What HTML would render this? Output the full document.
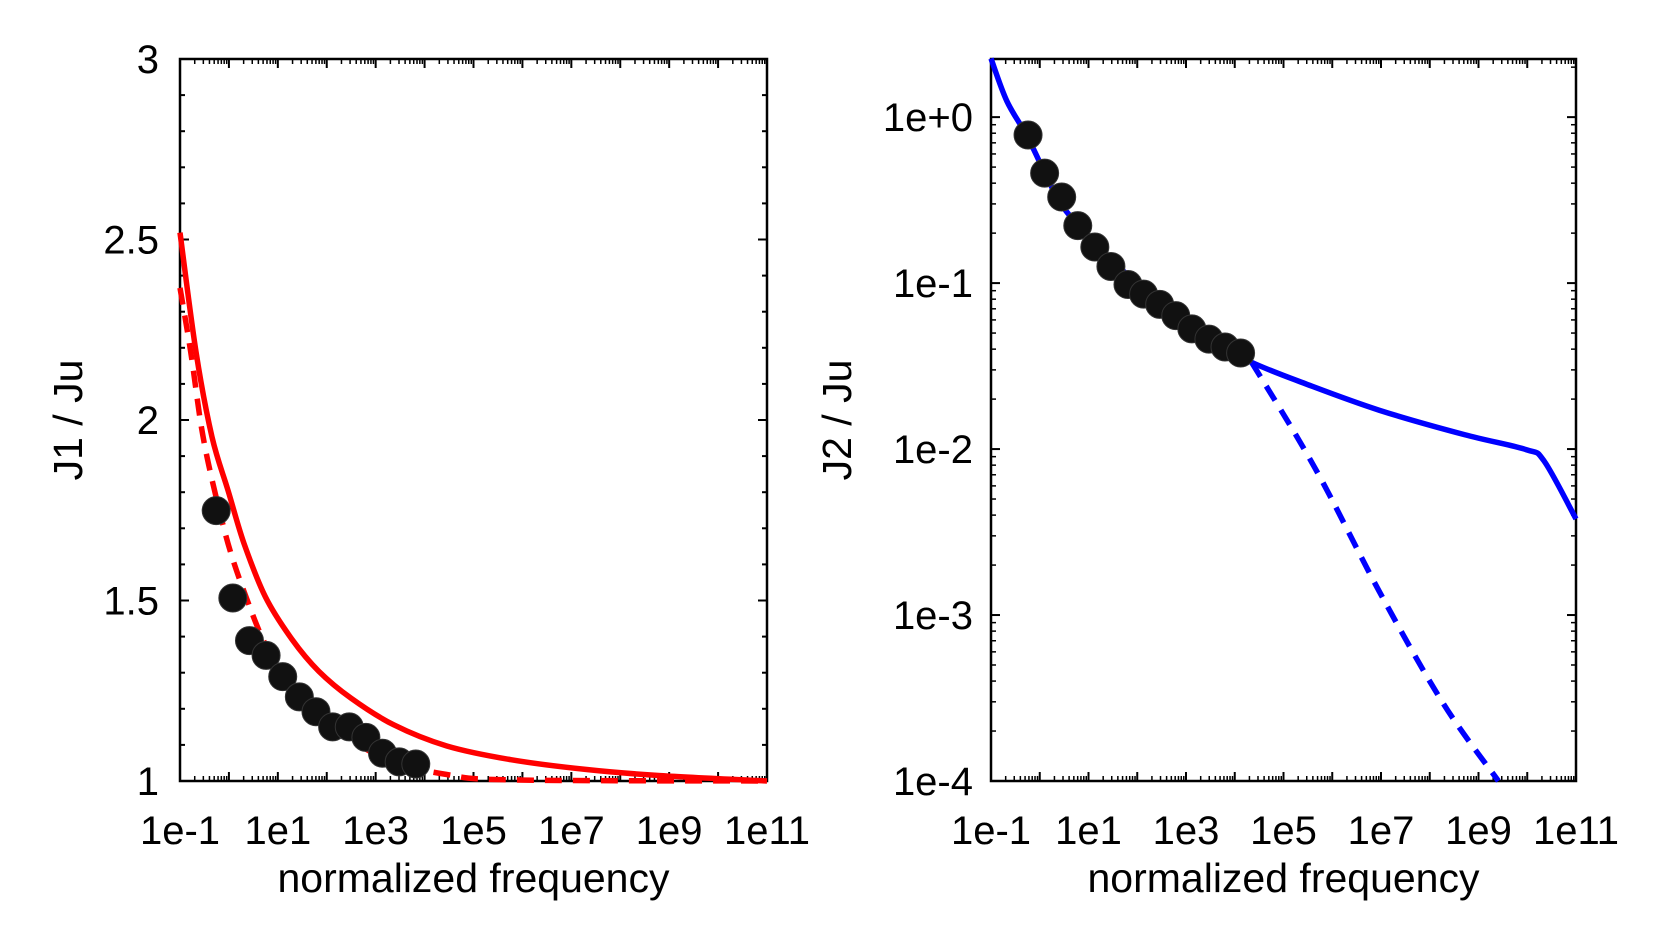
<!DOCTYPE html>
<html><head><meta charset="utf-8"><style>
body{margin:0;background:#fff}
svg{display:block}
text{font-family:"Liberation Sans",sans-serif;fill:#000}
</style></head><body>
<svg id="c" width="1663" height="946" viewBox="0 0 1663 946" xmlns="http://www.w3.org/2000/svg"></svg>
<script>
// Left panel data (log10 frequency, J1/Ju)
const leftDotLogF=[-0.26,0.08,0.42,0.76,1.10,1.44,1.78,2.12,2.46,2.80,3.14,3.48,3.82];
const leftDotVal=[1.749,1.507,1.389,1.348,1.289,1.233,1.192,1.150,1.150,1.121,1.077,1.053,1.047];
const leftSolidLogF=[-1,-0.673,-0.345,-0.018,0.309,0.746,1.291,1.837,2.491,3.364,4.455,5.764,7.29,8.82,11];
const leftSolidVal=[2.519,2.189,1.953,1.805,1.658,1.510,1.392,1.304,1.230,1.156,1.097,1.059,1.032,1.015,1.0];
const leftDashLogF=[-1,-0.782,-0.564,-0.345,-0.018,0.309,0.746,1.291,1.837,2.491,3.364,4.455,5.764,11];
const leftDashVal=[2.366,2.189,1.982,1.835,1.658,1.525,1.378,1.26,1.171,1.112,1.053,1.018,1.003,1.0];
// Right panel data (log10 frequency, log10 J2/Ju)
const rightDotLogF=[-0.24,0.10,0.45,0.78,1.13,1.46,1.81,2.13,2.46,2.79,3.12,3.47,3.80,4.12];
const rightDotVal=[0.78,0.46,0.33,0.222,0.165,0.126,0.098,0.0858,0.0745,0.0637,0.0530,0.0460,0.0412,0.0379];
const rightSolidLogF=[-1,-0.673,-0.236,0.418,1.073,1.727,2.6,3.473,4.346,5.437,6.964,8.71,9.975,10.35,11];
const rightSolidLogV=[0.353,0.096,-0.128,-0.514,-0.738,-0.931,-1.156,-1.335,-1.477,-1.605,-1.766,-1.913,-2.003,-2.074,-2.421];
const rightDashLogF=[4.346,5.655,6.964,8.273,9.408];
const rightDashLogV=[-1.477,-2.119,-2.857,-3.531,-4.0];
const xTickLabels=["1e-1","1e1","1e3","1e5","1e7","1e9","1e11"];
const leftYTicks=["1","1.5","2","2.5","3"];
const rightYTicks=["1e-4","1e-3","1e-2","1e-1","1e+0"];

const svg=document.getElementById('c');
const NS="http://www.w3.org/2000/svg";
function mk(t,a,p){const e=document.createElementNS(NS,t);for(const k in a)e.setAttribute(k,a[k]);(p||svg).appendChild(e);return e;}
const yTop=59,bot=781;
const L={x0:180,x1:767},R={x0:991,x1:1576};
function xs(P,lf){return P.x0+(lf+1)/12*(P.x1-P.x0);}
function yL(v){return bot-(v-1)/2*(bot-yTop);}
const rTop=Math.log10(2.24);
function yR(lv){return bot-(lv+4)/(rTop+4)*(bot-yTop);}

function frame(P,name){
  const g=mk('g',{});
  mk('rect',{x:P.x0,y:yTop,width:P.x1-P.x0,height:bot-yTop,fill:'none',stroke:'#000','stroke-width':2.5},g);
  for(let d=-1;d<=11;d++){
    const x=xs(P,d);
    mk('line',{x1:x,x2:x,y1:bot,y2:bot-9,stroke:'#000','stroke-width':2},g);
    mk('line',{x1:x,x2:x,y1:yTop,y2:yTop+9,stroke:'#000','stroke-width':2},g);
    if(d<11)for(let m=2;m<10;m++){const xm=xs(P,d+Math.log10(m));
      mk('line',{x1:xm,x2:xm,y1:bot,y2:bot-5,stroke:'#000','stroke-width':1.5},g);
      mk('line',{x1:xm,x2:xm,y1:yTop,y2:yTop+5,stroke:'#000','stroke-width':1.5},g);}
  }
  xTickLabels.forEach((s,i)=>{const t=mk('text',{x:xs(P,-1+2*i),y:844,'font-size':40,'text-anchor':'middle'},g);t.textContent=s;
    });
  const xt=mk('text',{x:(P.x0+P.x1)/2,y:892,'font-size':41,'text-anchor':'middle'},g);xt.textContent='normalized frequency';
  
  return g;
}
const gl=frame(L,'left-panel');
for(let i=0;i<=20;i++){const y=yL(1+i*0.1);const len=i%5==0?9:5;
  mk('line',{x1:L.x0,x2:L.x0+len,y1:y,y2:y,stroke:'#000','stroke-width':2},gl);
  mk('line',{x1:L.x1,x2:L.x1-len,y1:y,y2:y,stroke:'#000','stroke-width':2},gl);}
leftYTicks.forEach((s,i)=>{const t=mk('text',{x:159,y:yL(1+0.5*i)+14,'font-size':40,'text-anchor':'end'},gl);t.textContent=s;
  });
let yt=mk('text',{x:0,y:0,'font-size':41,'text-anchor':'middle','xml:space':'preserve',transform:'translate(82,420) rotate(-90)'},gl);yt.textContent='J1 / Ju';


const gr=frame(R,'right-panel');
for(let d=-4;d<=0;d++){const y=yR(d);
  mk('line',{x1:R.x0,x2:R.x0+9,y1:y,y2:y,stroke:'#000','stroke-width':2},gr);
  mk('line',{x1:R.x1,x2:R.x1-9,y1:y,y2:y,stroke:'#000','stroke-width':2},gr);
  for(let m=2;m<10;m++){const lv=d+Math.log10(m);if(lv>rTop)break;const ym=yR(lv);
    mk('line',{x1:R.x0,x2:R.x0+5,y1:ym,y2:ym,stroke:'#000','stroke-width':1.5},gr);
    mk('line',{x1:R.x1,x2:R.x1-5,y1:ym,y2:ym,stroke:'#000','stroke-width':1.5},gr);}}
rightYTicks.forEach((s,i)=>{const t=mk('text',{x:973,y:yR(-4+i)+14,'font-size':40,'text-anchor':'end'},gr);t.textContent=s;
  });
yt=mk('text',{x:0,y:0,'font-size':41,'text-anchor':'middle',transform:'translate(851,420) rotate(-90)'},gr);yt.textContent='J2 / Ju';


function smoothPath(pts){
  let d='M'+pts[0][0].toFixed(1)+','+pts[0][1].toFixed(1);
  for(let i=0;i<pts.length-1;i++){
    const p0=pts[Math.max(0,i-1)],p1=pts[i],p2=pts[i+1],p3=pts[Math.min(pts.length-1,i+2)];
    const c1=[p1[0]+(p2[0]-p0[0])/6,p1[1]+(p2[1]-p0[1])/6];
    const c2=[p2[0]-(p3[0]-p1[0])/6,p2[1]-(p3[1]-p1[1])/6];
    d+=' C'+c1[0].toFixed(1)+','+c1[1].toFixed(1)+' '+c2[0].toFixed(1)+','+c2[1].toFixed(1)+' '+p2[0].toFixed(1)+','+p2[1].toFixed(1);
  }
  return d;
}
function line(P,lf,vals,yf,color,dash,name){
  const pts=lf.map((f,i)=>[xs(P,f),yf(vals[i])]);
  const a={d:smoothPath(pts),fill:'none',stroke:color,'stroke-width':5.5,'stroke-linejoin':'round'};
  if(dash)a['stroke-dasharray']='17 11';
  const p=mk('path',a);
  
  
}
function dots(P,lf,vals,yf,name){
  lf.forEach((f,i)=>{const c=mk('circle',{cx:xs(P,f),cy:yf(vals[i]),r:14,fill:'#111',stroke:'#333','stroke-width':1});
    
    });
}
line(L,leftSolidLogF,leftSolidVal,yL,'#ff0000',false,'j1-solid-curve');
line(L,leftDashLogF,leftDashVal,yL,'#ff0000',true,'j1-dashed-curve');
dots(L,leftDotLogF,leftDotVal,yL,'j1-data-point');
line(R,rightSolidLogF,rightSolidLogV,yR,'#0000ff',false,'j2-solid-curve');
line(R,rightDashLogF,rightDashLogV,yR,'#0000ff',true,'j2-dashed-curve');
dots(R,rightDotLogF,rightDotVal.map(v=>Math.log10(v)),yR,'j2-data-point');
</script>
</body></html>
